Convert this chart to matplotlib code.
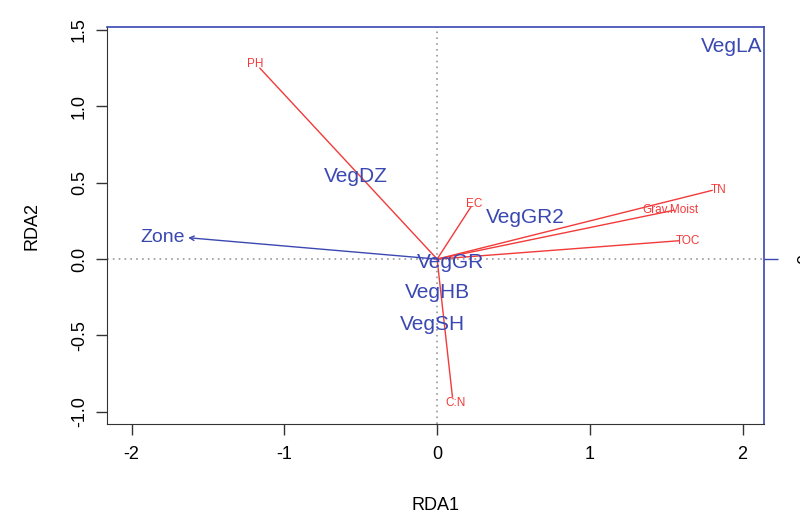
import numpy as np
import matplotlib
matplotlib.use("Agg")
import matplotlib.pyplot as plt

plt.rcParams['font.family'] = ['Liberation Sans', 'DejaVu Sans']
plt.rcParams['axes.unicode_minus'] = False

# environmental vectors (arrow tips and label positions)
env_names = ['PH', 'EC', 'TN', 'Grav.Moist', 'TOC', 'C:N']
env_x = [-1.16, 0.22, 1.80, 1.55, 1.58, 0.10]
env_y = [1.25, 0.34, 0.45, 0.32, 0.12, -0.90]
env_lab_x = [-1.19, 0.24, 1.84, 1.53, 1.64, 0.12]
env_lab_y = [1.28, 0.36, 0.45, 0.32, 0.12, -0.94]

# factor vector
fac_name = 'Zone'
fac_x, fac_y = -1.63, 0.14
fac_lab_x, fac_lab_y = -1.80, 0.14

# factor level centroids
cen_names = ['VegLA', 'VegDZ', 'VegGR2', 'VegGR', 'VegHB', 'VegSH']
cen_x = [1.93, -0.53, 0.58, 0.09, 0.0, -0.03]
cen_y = [1.39, 0.54, 0.27, -0.02, -0.22, -0.43]

red = '#f23a3a'
blue = '#3a48b2'

fig = plt.figure(figsize=(8, 5.19), dpi=100)
ax = fig.add_axes([0.134, 0.183, 0.821, 0.765])
ax.set_xlim(-2.16, 2.14)
ax.set_ylim(-1.08, 1.52)

ax.axhline(0, color='#999999', ls=(0, (1, 2.5)), lw=1.2, zorder=0)
ax.axvline(0, color='#999999', ls=(0, (1, 2.5)), lw=1.2, zorder=0)

for i in range(len(env_names)):
    ax.plot([0, env_x[i]], [0, env_y[i]], color=red, lw=1)
    ax.text(env_lab_x[i], env_lab_y[i], env_names[i], color=red, fontsize=8.5,
            ha='center', va='center')

ax.annotate('', xy=(fac_x, fac_y), xytext=(0, 0),
            arrowprops=dict(arrowstyle='->', color=blue, lw=1,
                            shrinkA=0, shrinkB=0, mutation_scale=8))
ax.text(fac_lab_x, fac_lab_y, fac_name, color=blue, fontsize=14,
        ha='center', va='center')

for i in range(len(cen_names)):
    ax.text(cen_x[i], cen_y[i], cen_names[i], color=blue, fontsize=15,
            ha='center', va='center')

for s in ['left', 'bottom']:
    ax.spines[s].set_color('#333333')
for s in ['top', 'right']:
    ax.spines[s].set_color(blue)
    ax.spines[s].set_linewidth(1.2)

ax.set_xticks([-2, -1, 0, 1, 2])
ax.set_yticks([-1.0, -0.5, 0.0, 0.5, 1.0, 1.5])
ax.set_yticklabels(['-1.0', '-0.5', '0.0', '0.5', '1.0', '1.5'],
                   rotation=90, va='center')
ax.tick_params(axis='both', length=8, width=1, color='#333333',
               labelsize=13, pad=8)
ax.tick_params(axis='y', pad=6)

sec = ax.twinx()
sec.set_ylim(ax.get_ylim())
sec.set_yticks([0])
sec.set_yticklabels(['0'], rotation=90, va='center')
sec.tick_params(axis='y', length=10, width=1, color=blue, labelsize=13, pad=14)
for s in sec.spines.values():
    s.set_visible(False)

ax.set_xlabel('RDA1', fontsize=13, labelpad=24)
ax.set_ylabel('RDA2', fontsize=13, labelpad=22)

fig.savefig('out.png', dpi=100)
